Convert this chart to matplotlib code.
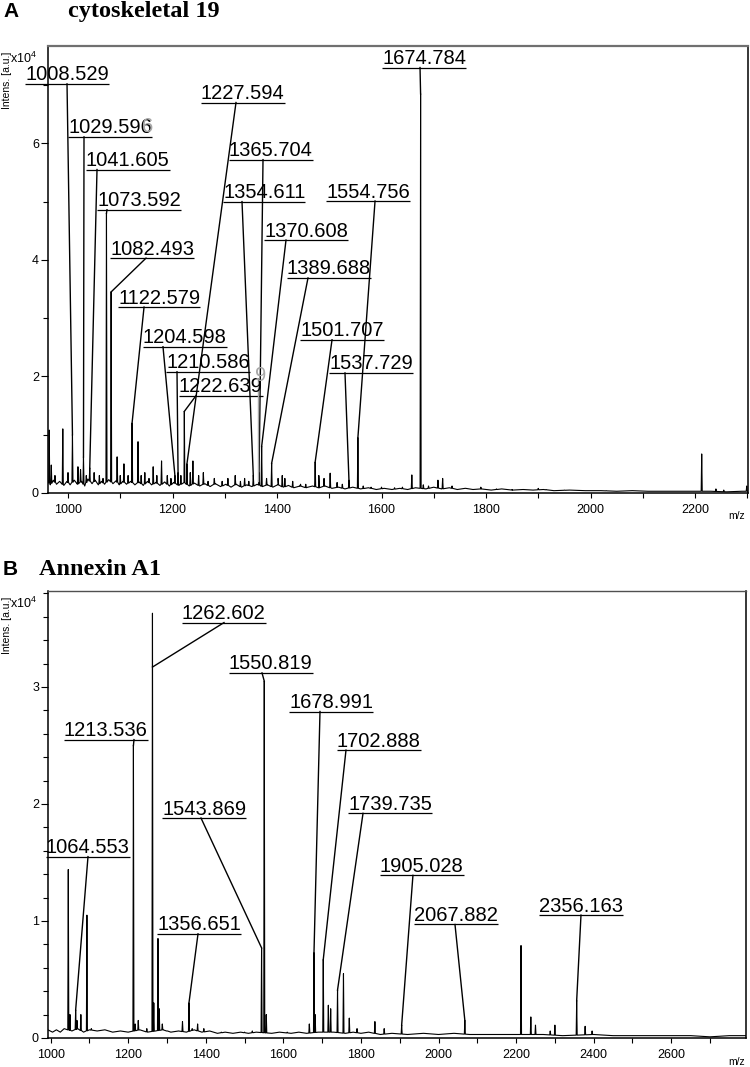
import numpy as np
import matplotlib
matplotlib.use("Agg")
import matplotlib.pyplot as plt
from matplotlib.ticker import MultipleLocator
from matplotlib.transforms import offset_copy

plt.rcParams['font.family'] = ['Liberation Sans', 'DejaVu Sans']
plt.rcParams['mathtext.fontset'] = 'custom'
plt.rcParams['mathtext.rm'] = 'Liberation Sans'
plt.rcParams['mathtext.default'] = 'regular'

# ---------------- panel A: cytoskeletal 19 (intensity in 1e4 a.u.)
a_peak_mz = [964, 968, 975, 990, 1000, 1008.5, 1019, 1024, 1029.6, 1035, 1041.6, 1050, 1060, 1067,
             1073.6, 1082.5, 1094, 1100, 1107, 1115, 1122.6, 1134, 1140, 1147, 1155, 1163, 1170,
             1179, 1190, 1197, 1204.6, 1210.6, 1216, 1222.6, 1227.6, 1234, 1239, 1250, 1259, 1268,
             1280, 1295, 1306, 1320, 1330, 1338, 1346, 1354.6, 1365.7, 1370.6, 1380, 1389.7, 1402,
             1410, 1415, 1430, 1445, 1455, 1473, 1480, 1490, 1501.7, 1515, 1525, 1537.7, 1554.8,
             1565, 1580, 1600, 1625, 1640, 1658, 1674.8, 1680, 1690, 1708, 1717, 1735, 1760, 1790,
             1820, 1850, 1870, 1900, 1915, 1950, 2000, 2030, 2212.8, 2240, 2255, 2299]
a_peak_int = [1.08, 0.48, 0.3, 1.1, 0.35, 1.0, 0.45, 0.4, 0.62, 0.3, 0.43, 0.35, 0.3, 0.25,
              4.8, 3.45, 0.62, 0.3, 0.5, 0.3, 1.2, 0.88, 0.3, 0.35, 0.25, 0.45, 0.3,
              0.55, 0.3, 0.25, 0.3, 0.35, 0.3, 1.4, 0.5, 0.35, 0.55, 0.3, 0.35, 0.2,
              0.25, 0.2, 0.25, 0.3, 0.2, 0.25, 0.2, 0.3, 0.35, 0.8, 0.25, 0.51, 0.25,
              0.3, 0.25, 0.2, 0.15, 0.15, 0.53, 0.3, 0.25, 0.34, 0.18, 0.15, 0.22, 0.95,
              0.12, 0.1, 0.1, 0.09, 0.1, 0.31, 6.85, 0.14, 0.12, 0.22, 0.25, 0.12, 0.08, 0.1,
              0.07, 0.06, 0.06, 0.08, 0.06, 0.05, 0.04, 0.04, 0.67, 0.07, 0.05, 0.12]
a_base_mz = [962, 966, 972, 978, 984, 992, 998, 1004, 1012, 1018, 1026, 1032, 1038, 1046, 1052,
             1058, 1064, 1070, 1078, 1086, 1092, 1098, 1105, 1112, 1120, 1128, 1136, 1144, 1152,
             1160, 1168, 1176, 1185, 1194, 1202, 1212, 1222, 1232, 1242, 1252, 1262, 1272, 1282,
             1292, 1302, 1312, 1322, 1332, 1342, 1352, 1362, 1372, 1382, 1392, 1402, 1412, 1422,
             1432, 1444, 1456, 1468, 1480, 1492, 1505, 1518, 1530, 1545, 1560, 1575, 1590, 1605,
             1620, 1635, 1650, 1665, 1685, 1700, 1715, 1730, 1745, 1760, 1775, 1790, 1810, 1830,
             1850, 1870, 1890, 1910, 1930, 1960, 1990, 2020, 2050, 2080, 2110, 2140, 2170, 2200,
             2230, 2260, 2290, 2302]
a_base_int = [0.2, 0.14, 0.22, 0.15, 0.2, 0.13, 0.2, 0.14, 0.22, 0.15, 0.2, 0.12, 0.24, 0.16, 0.22,
              0.14, 0.2, 0.15, 0.23, 0.16, 0.21, 0.14, 0.2, 0.15, 0.2, 0.14, 0.19, 0.13, 0.2,
              0.14, 0.18, 0.13, 0.19, 0.12, 0.18, 0.13, 0.18, 0.12, 0.17, 0.12, 0.16, 0.11, 0.16,
              0.11, 0.15, 0.1, 0.15, 0.1, 0.14, 0.11, 0.15, 0.11, 0.14, 0.1, 0.14, 0.1, 0.13,
              0.09, 0.12, 0.09, 0.12, 0.09, 0.12, 0.08, 0.1, 0.07, 0.1, 0.07, 0.09, 0.06, 0.08,
              0.06, 0.08, 0.06, 0.09, 0.07, 0.1, 0.07, 0.09, 0.06, 0.08, 0.06, 0.07, 0.05, 0.07,
              0.05, 0.06, 0.05, 0.06, 0.04, 0.05, 0.04, 0.04, 0.03, 0.04, 0.03, 0.03, 0.03, 0.03,
              0.03, 0.02, 0.03, 0.03]
a_labels = ['1008.529', '1029.596', '1041.605', '1073.592', '1082.493', '1122.579', '1204.598',
            '1210.586', '1222.639', '1227.594', '1365.704', '1354.611', '1370.608', '1389.688',
            '1554.756', '1501.707', '1537.729', '1674.784']
a_lab_end_mz = [1008.5, 1029.6, 1041.6, 1073.6, 1082.5, 1122.6, 1204.6, 1210.6, 1222.6, 1227.6,
                1365.7, 1354.6, 1370.6, 1389.7, 1554.8, 1473, 1537.7, 1674.8]
a_lab_end_int = [1.0, 0.62, 0.43, 4.8, 3.45, 1.2, 0.3, 0.35, 1.4, 0.5,
                 0.35, 0.3, 0.8, 0.51, 0.95, 0.53, 0.22, 6.85]

# ---------------- panel B: Annexin A1
b_peak_mz = [1045.6, 1050, 1064.6, 1068, 1078, 1093.6, 1105, 1213.5, 1218, 1226, 1248, 1262.6,
             1266, 1276.8, 1280, 1288, 1300, 1340, 1356.7, 1365, 1379, 1395, 1440, 1500, 1520,
             1543.9, 1550.8, 1556, 1610, 1667, 1679.0, 1682, 1702.9, 1716, 1722, 1739.7, 1755,
             1770, 1790, 1836, 1860, 1905.0, 1960, 2067.9, 2212.7, 2238, 2250, 2288, 2300,
             2356.2, 2378, 2396]
b_peak_int = [1.44, 0.2, 0.24, 0.15, 0.2, 1.05, 0.08, 2.5, 0.12, 0.15, 0.08, 3.63,
              0.3, 0.85, 0.25, 0.12, 0.06, 0.14, 0.3, 0.08, 0.12, 0.08, 0.05, 0.05, 0.06,
              0.77, 3.05, 0.2, 0.05, 0.12, 0.73, 0.2, 0.67, 0.28, 0.25, 0.41, 0.55,
              0.17, 0.08, 0.14, 0.08, 0.11, 0.04, 0.15, 0.79, 0.18, 0.11, 0.06, 0.11,
              0.32, 0.1, 0.06]
b_base_mz = [993, 1005, 1015, 1025, 1035, 1055, 1070, 1085, 1100, 1120, 1140, 1160, 1180, 1200,
             1230, 1250, 1290, 1310, 1330, 1350, 1370, 1390, 1410, 1430, 1450, 1470, 1490, 1510,
             1530, 1570, 1590, 1620, 1640, 1660, 1690, 1730, 1760, 1780, 1800, 1820, 1850, 1880,
             1920, 1960, 2000, 2040, 2080, 2120, 2160, 2200, 2270, 2320, 2400, 2450, 2500, 2550,
             2600, 2650, 2700, 2750, 2793]
b_base_int = [0.07, 0.05, 0.07, 0.05, 0.08, 0.06, 0.08, 0.05, 0.07, 0.06, 0.07, 0.05, 0.06, 0.05,
              0.07, 0.05, 0.07, 0.05, 0.06, 0.05, 0.07, 0.05, 0.06, 0.04, 0.05, 0.04, 0.05, 0.04,
              0.05, 0.04, 0.05, 0.04, 0.05, 0.04, 0.05, 0.05, 0.04, 0.05, 0.04, 0.05, 0.03, 0.04,
              0.03, 0.04, 0.03, 0.04, 0.03, 0.03, 0.03, 0.03, 0.03, 0.02, 0.03, 0.02, 0.02, 0.02,
              0.02, 0.02, 0.01, 0.02, 0.02]
b_labels = ['1262.602', '1213.536', '1550.819', '1678.991', '1702.888', '1543.869', '1739.735',
            '1064.553', '1356.651', '1905.028', '2067.882', '2356.163']
b_lab_end_mz = [1262.6, 1213.5, 1550.8, 1679.0, 1702.9, 1543.9, 1739.7, 1064.6, 1356.7,
                1905.0, 2067.9, 2356.2]
b_lab_end_int = [3.17, 2.5, 3.05, 0.73, 0.67, 0.77, 0.41, 0.24, 0.3, 0.11, 0.15, 0.32]

# label layout: left end of underline (m/z), underline height, leader start on underline (m/z)
a_txt_x = [917.7, 1000.0, 1034.4, 1055.5, 1080.4, 1095.7, 1143.5, 1187.6, 1212.4, 1254.5,
           1308.1, 1296.7, 1375.1, 1419.1, 1493.8, 1444.0, 1499.5, 1601.0]
a_txt_y = [7.02, 6.11, 5.55, 4.86, 4.03, 3.19, 2.51, 2.08, 1.67, 6.70,
           5.72, 5.00, 4.34, 3.69, 5.01, 2.63, 2.06, 7.30]
a_anchor = [998.1, 1030.6, 1055.5, 1074.6, 1149.3, 1145.5, 1181.8, 1208.6, 1245.0, 1321.5,
            1373.2, 1333.0, 1417.2, 1459.3, 1587.6, 1505.3, 1530.1, 1673.7]
b_txt_x = [1338.7, 1034.5, 1459.9, 1614.6, 1738.3, 1287.2, 1766.7, 988.1, 1274.3, 1849.0,
           1936.6, 2259.1]
b_txt_y = [3.55, 2.55, 3.12, 2.79, 2.46, 1.88, 1.92, 1.55, 0.89, 1.39, 0.97, 1.05]
b_anchor = [1447.0, 1215.0, 1545.0, 1694.5, 1761.5, 1387.7, 1805.4, 1096.4, 1380.0, 1934.1,
            2042.5, 2367.3]


def spectrum_xy(peak_mz, peak_int, base_mz, base_int, hw):
    xs = list(base_mz)
    ys = list(base_int)
    for m, h in zip(peak_mz, peak_int):
        foot = np.interp(m, base_mz, base_int)
        xs += [m - hw, m, m + hw]
        ys += [foot, h, foot]
    order = np.argsort(xs, kind='stable')
    return np.array(xs)[order], np.array(ys)[order]


def style_axes(ax, xlim, ylim, ymaj, ymin, top_col, top_lw):
    ax.set_xlim(*xlim)
    ax.set_ylim(*ylim)
    ax.xaxis.set_major_locator(MultipleLocator(200))
    ax.xaxis.set_minor_locator(MultipleLocator(100))
    ax.yaxis.set_major_locator(MultipleLocator(ymaj))
    ax.yaxis.set_minor_locator(MultipleLocator(ymin))
    ax.yaxis.set_major_formatter(lambda v, p: f"{v:g}")
    ax.tick_params(axis='x', which='both', direction='out', length=3.6, width=0.8,
                   labelsize=9, pad=4, top=False)
    ax.tick_params(axis='y', which='major', direction='out', length=5, width=0.8,
                   labelsize=9, pad=1.5, right=False)
    ax.tick_params(axis='y', which='minor', direction='out', length=3.6, width=0.8, right=False)
    for s in ['left', 'bottom', 'right']:
        ax.spines[s].set_linewidth(1.1)
        ax.spines[s].set_color('black')
    ax.spines['top'].set_color(top_col)
    ax.spines['top'].set_linewidth(top_lw)


def annotate(ax, labels, end_mz, end_int, txt_x, txt_y, anchor):
    fig = ax.figure
    r = fig.canvas.get_renderer()
    tr = offset_copy(ax.transData, fig=fig, x=0, y=3.5, units='dots')
    inv = ax.transData.inverted()
    for lab, em, ei, tx, ty, an in zip(labels, end_mz, end_int, txt_x, txt_y, anchor):
        t = ax.text(tx, ty, lab, transform=tr, ha='left', va='baseline', fontsize=14.5,
                    clip_on=False)
        bb = t.get_window_extent(r)
        x0 = inv.transform((bb.x0, 0))[0]
        x1 = inv.transform((bb.x1, 0))[0]
        ax.plot([x0, x1], [ty, ty], color='black', lw=0.9, clip_on=False,
                solid_capstyle='butt')
        ax.plot([an, em], [ty, ei], color='black', lw=1.0, clip_on=False)


fig = plt.figure(figsize=(7.5, 10.67), dpi=100)
ax_a = fig.add_axes([48 / 750, 1 - 493 / 1067, 700 / 750, 447 / 1067])
ax_b = fig.add_axes([48 / 750, 1 - 1038 / 1067, 698 / 750, 447 / 1067])

style_axes(ax_a, (961.7, 2301.4), (0, 7.67), 2, 1, '#707070', 1.6)
style_axes(ax_b, (993.3, 2792.7), (0, 3.82), 1, 0.2, '#505050', 1.0)

x, y = spectrum_xy(a_peak_mz, a_peak_int, a_base_mz, a_base_int, 1.0)
ax_a.plot(x, y, color='black', lw=0.8)
x, y = spectrum_xy(b_peak_mz, b_peak_int, b_base_mz, b_base_int, 1.3)
ax_b.plot(x, y, color='black', lw=0.8)

annotate(ax_a, a_labels, a_lab_end_mz, a_lab_end_int, a_txt_x, a_txt_y, a_anchor)
annotate(ax_b, b_labels, b_lab_end_mz, b_lab_end_int, b_txt_x, b_txt_y, b_anchor)

# faint ghost characters left over in the original export
ax_a.text(1141.6, 6.2, '6', color='#a8a8a8', fontsize=14.5, ha='left', va='baseline')
ax_a.text(1357.9, 1.92, '9', color='#a8a8a8', fontsize=14.5, ha='left', va='baseline')
ax_a.plot([1362.7, 1362.7], [1.95, 0.2], color='#a8a8a8', lw=1.0)

for top_px, mid_px in [(63, 80), (608, 625)]:
    fig.text(10 / 750, 1 - top_px / 1067, r'x10$^{4}$', fontsize=9, ha='left', va='baseline')
    fig.text(7 / 750, 1 - mid_px / 1067, 'Intens. [a.u.]', fontsize=7.5, rotation=90,
             ha='center', va='center')
for y_px in [516, 1062]:
    fig.text(737 / 750, 1 - y_px / 1067, 'm/z', fontsize=7.5, ha='center', va='center')

fig.text(3 / 750, 1 - 17 / 1067, 'A', fontsize=15, fontweight='bold', va='baseline')
fig.text(68 / 750, 1 - 17 / 1067, 'cytoskeletal 19', fontsize=17.5, fontweight='bold',
         family='Liberation Serif', va='baseline')
fig.text(3 / 750, 1 - 575 / 1067, 'B', fontsize=15, fontweight='bold', va='baseline')
fig.text(39 / 750, 1 - 575 / 1067, 'Annexin A1', fontsize=17.5, fontweight='bold',
         family='Liberation Serif', va='baseline')

fig.savefig('out.png', dpi=100)
